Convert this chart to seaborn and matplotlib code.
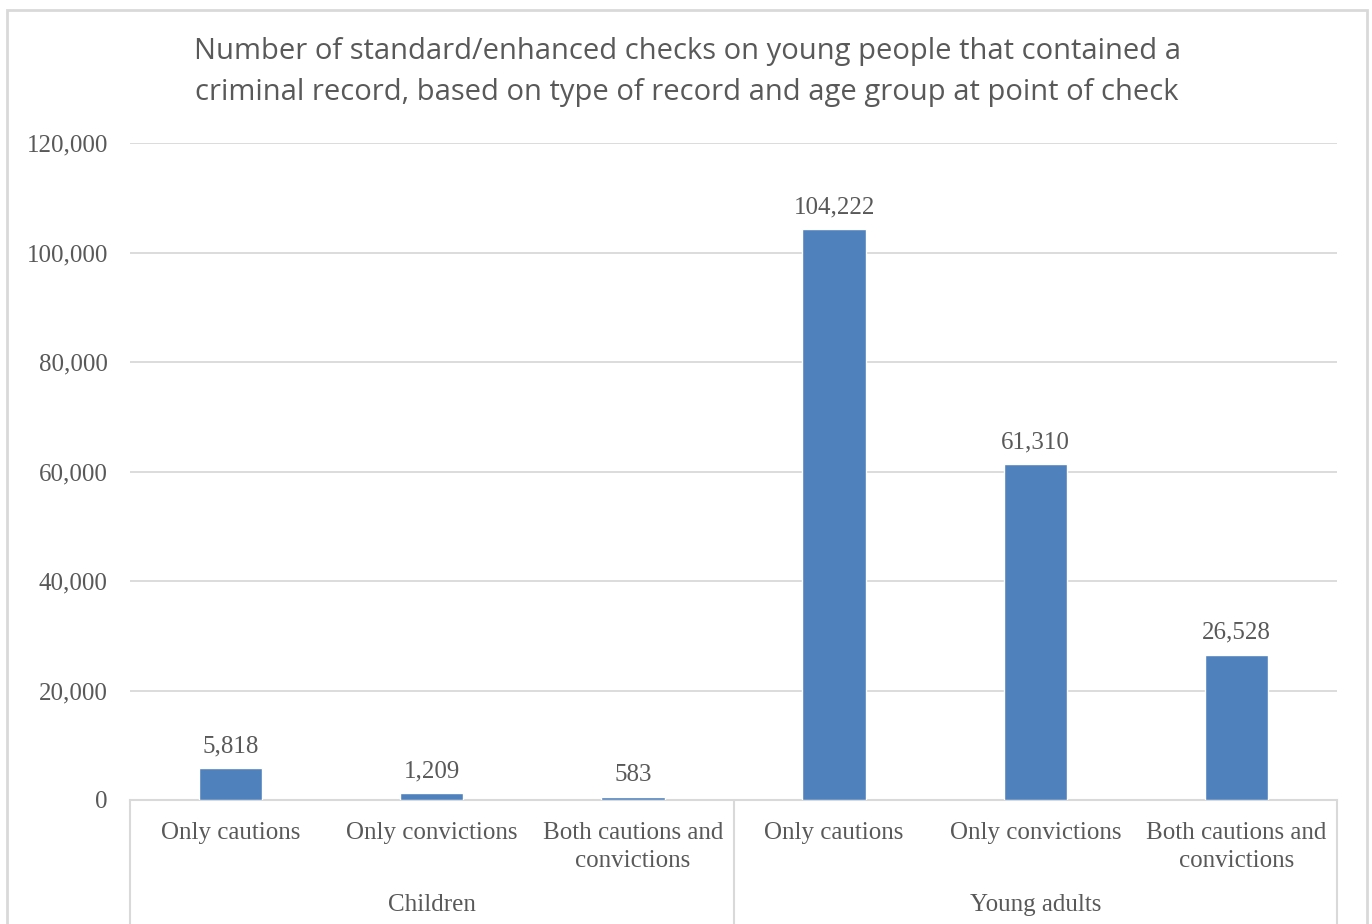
import matplotlib
matplotlib.use("Agg")
import matplotlib.pyplot as plt
import matplotlib.transforms as mtransforms
from matplotlib.patches import Rectangle
import seaborn as sns
import pandas as pd

# Data
groups = ["Children", "Children", "Children", "Young adults", "Young adults", "Young adults"]
record_types = ["Only cautions", "Only convictions", "Both cautions and\nconvictions",
                "Only cautions", "Only convictions", "Both cautions and\nconvictions"]
checks = [5818, 1209, 583, 104222, 61310, 26528]
y_ticks = [0, 20000, 40000, 60000, 80000, 100000, 120000]

df = pd.DataFrame({"group": groups, "record": record_types, "checks": checks})
df["slot"] = [f"{g}|{r}" for g, r in zip(groups, record_types)]

sns.set_theme(style="white")
plt.rcParams["font.family"] = ["Liberation Serif", "DejaVu Serif"]

TEXT = "#595959"
GRID = "#D9D9D9"
BAR = "#4F81BD"
FS = 18

fig = plt.figure(figsize=(13.72, 9.24), dpi=100)
fig.patch.set_facecolor("white")
ax = fig.add_axes([130 / 1372, 1 - 800 / 924, (1337 - 130) / 1372, (800 - 143) / 924])

sns.barplot(data=df, x="slot", y="checks", order=list(df["slot"]),
            color=BAR, width=0.315, saturation=1, ax=ax, zorder=3)

ax.set_ylim(0, 120000)
ax.set_xlim(-0.5, len(checks) - 0.5)
ax.set_yticks(y_ticks)
ax.set_yticklabels([f"{v:,}" for v in y_ticks], fontsize=FS, color=TEXT)
ax.tick_params(axis="y", length=0, pad=16)
ax.set_xticks(range(len(record_types)))
ax.set_xticklabels(record_types, fontsize=FS, color=TEXT, linespacing=1.35, va="top")
ax.tick_params(axis="x", length=0, pad=16)
ax.set_xlabel("")
ax.set_ylabel("")

for spine in ["top", "right", "left"]:
    ax.spines[spine].set_visible(False)
ax.spines["bottom"].set_color(GRID)
ax.spines["bottom"].set_linewidth(1.5)
ax.yaxis.grid(True, color=GRID, linewidth=1.3, zorder=0)
ax.set_axisbelow(True)

# Value labels
for i, v in enumerate(checks):
    ax.annotate(f"{v:,}", (i, v), xytext=(0, 8), textcoords="offset points",
                ha="center", va="bottom", fontsize=FS, color=TEXT)

# Multi-level category axis: separators and group labels
trans = mtransforms.blended_transform_factory(ax.transData, ax.transAxes)
bottom_axes = -(924 - 800) / (800 - 143)
for xsep in [-0.5, 2.5, 5.5]:
    ax.plot([xsep, xsep], [0, bottom_axes], transform=trans, color=GRID,
            linewidth=1.5, clip_on=False)
group_names = list(dict.fromkeys(groups))
for g in group_names:
    idx = [i for i, gg in enumerate(groups) if gg == g]
    xc = (idx[0] + idx[-1]) / 2
    ax.text(xc, -(905 - 800) / (800 - 143), g, transform=trans, ha="center",
            va="center", fontsize=FS, color=TEXT)

# Title
fig.text(687 / 1372, 1 - 72 / 924,
         "Number of standard/enhanced checks on young people that contained a\n"
         "criminal record, based on type of record and age group at point of check",
         ha="center", va="center", fontsize=21, color=TEXT,
         family=["Open Sans", "DejaVu Sans"], linespacing=1.55)

# Chart border
fig.patches.append(Rectangle((7 / 1372, -0.01), (1367 - 7) / 1372, 1 - 10 / 924 + 0.01,
                             transform=fig.transFigure, fill=False,
                             edgecolor=GRID, linewidth=2))

fig.savefig("out.png", dpi=100, facecolor="white")
